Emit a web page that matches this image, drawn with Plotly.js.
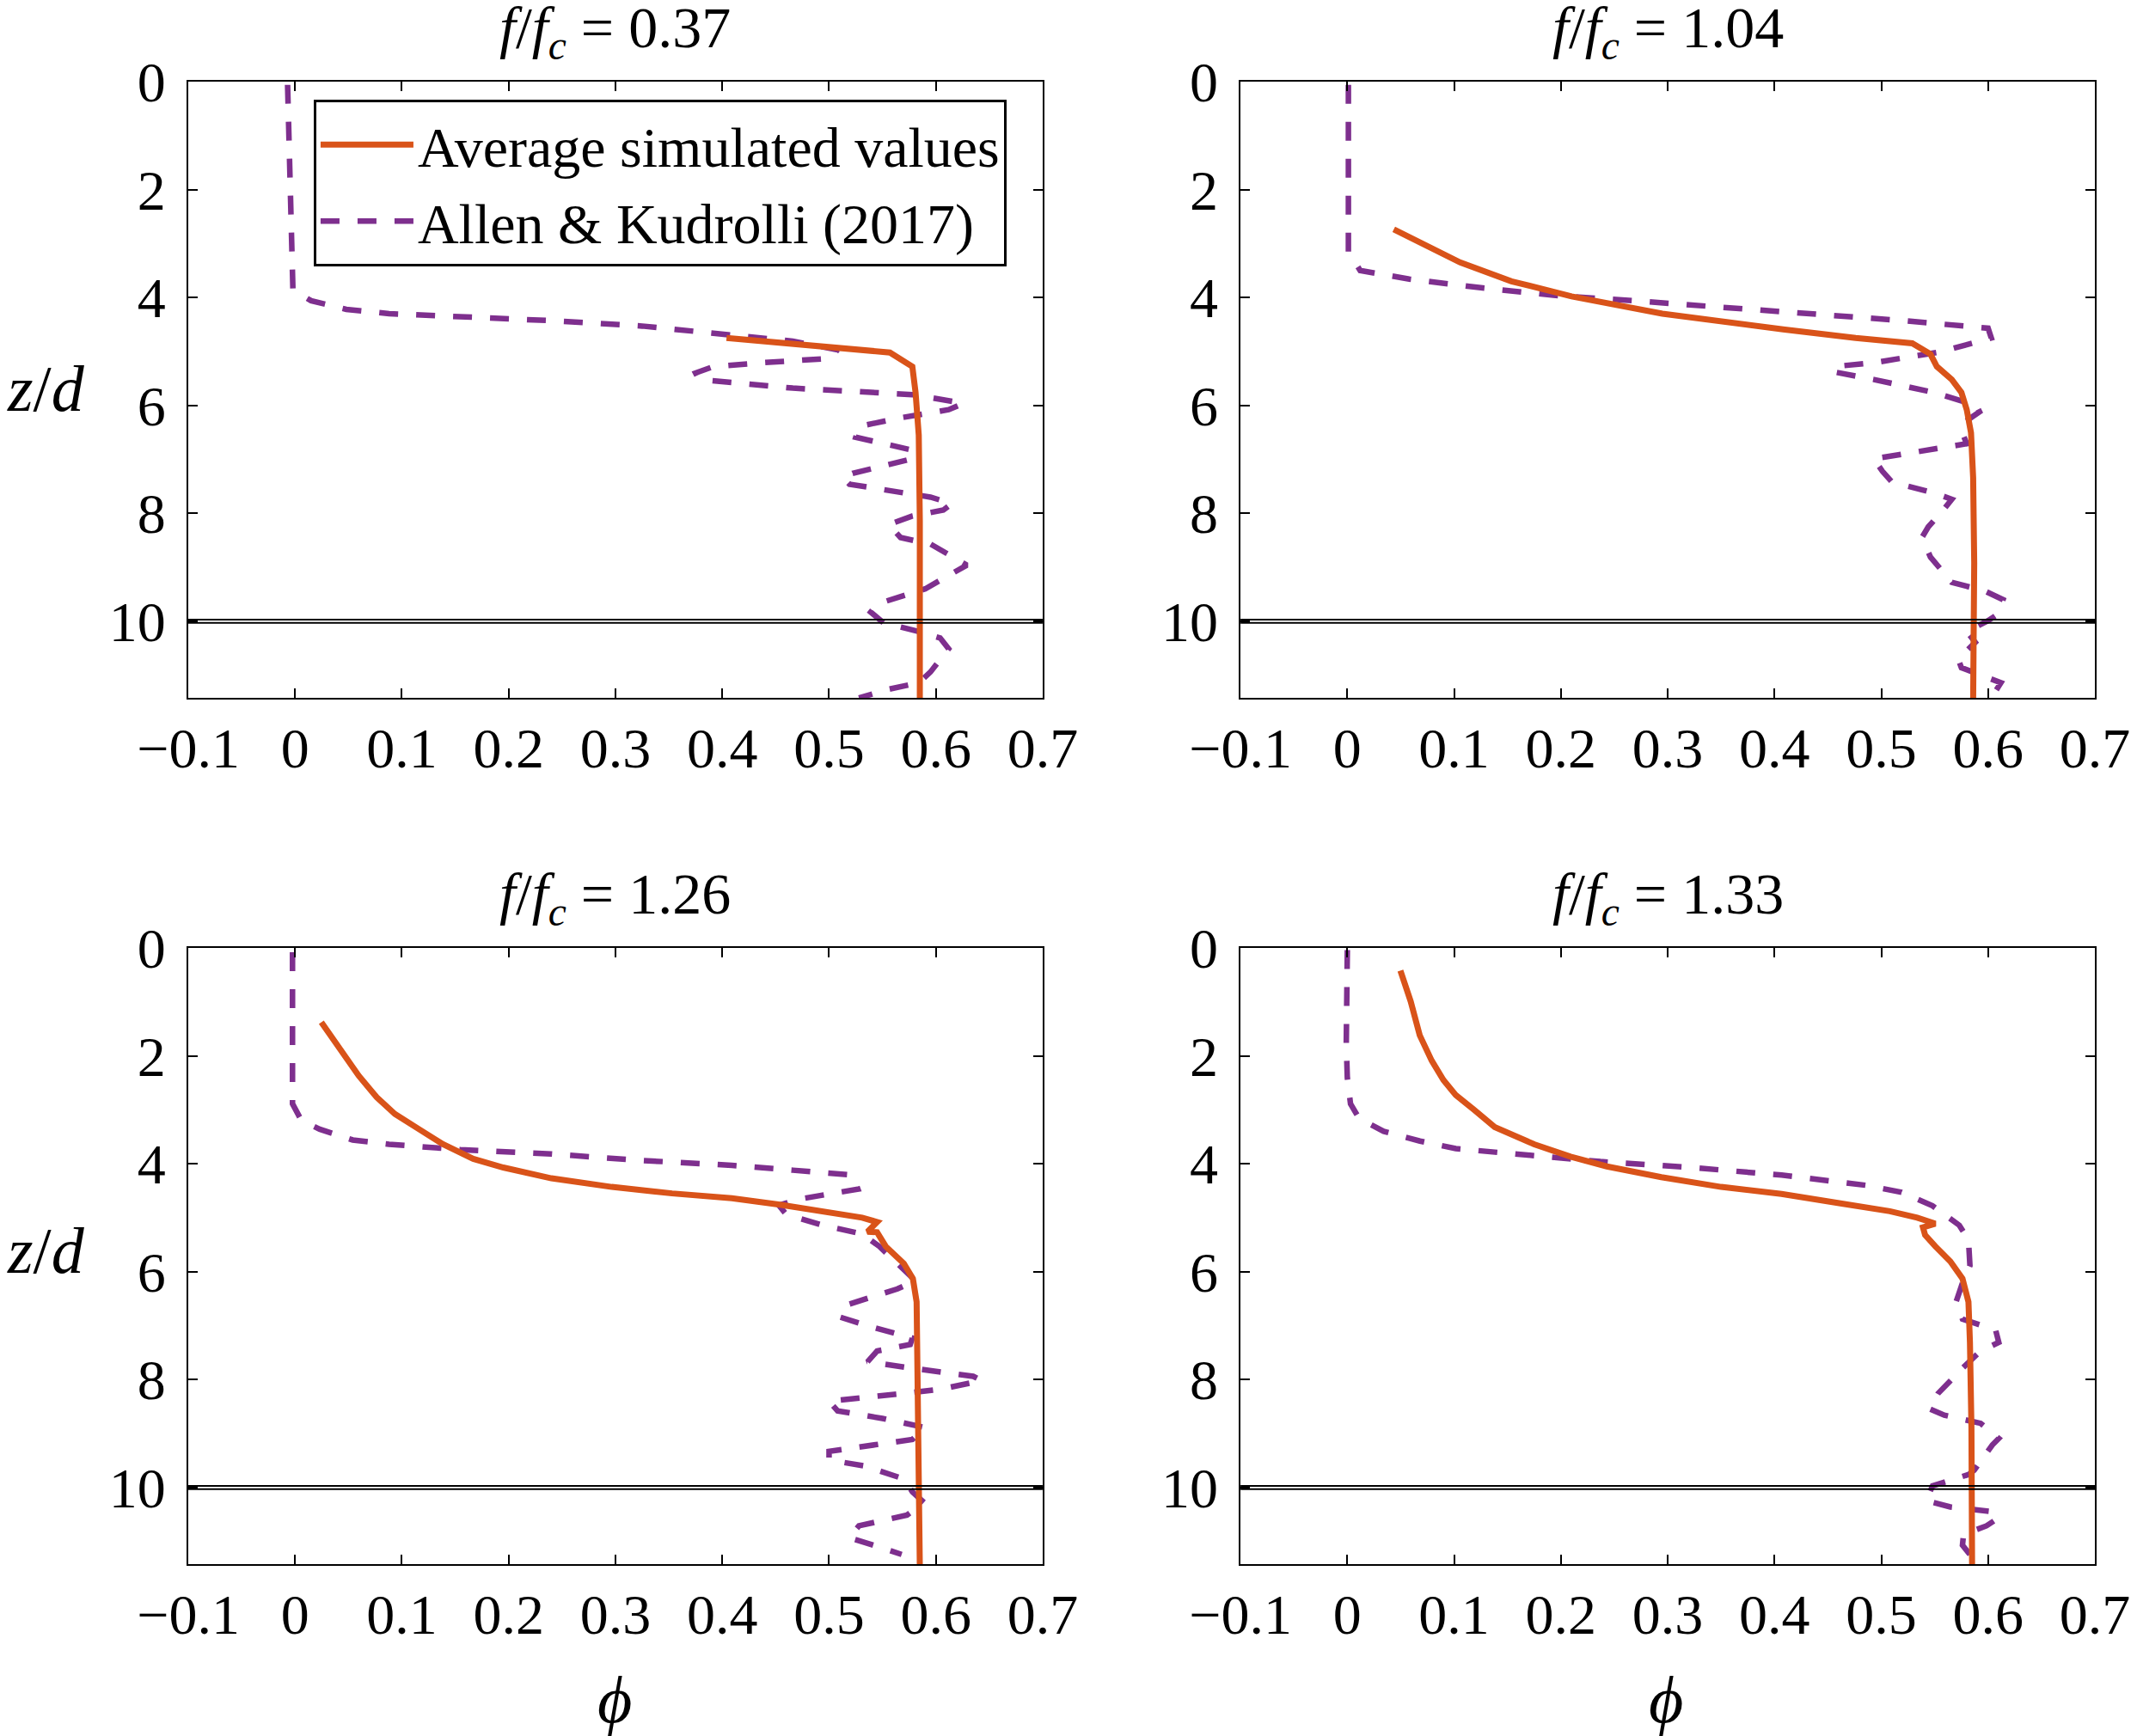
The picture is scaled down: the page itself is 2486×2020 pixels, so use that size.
<!DOCTYPE html>
<html>
<head>
<meta charset="utf-8">
<script src="https://cdn.plot.ly/plotly-3.0.1.min.js"></script>
<style>
  html, body { margin: 0; padding: 0; background: #ffffff; }
  #chart { width: 2486px; height: 2020px; }
</style>
</head>
<body>
<div id="chart"></div>
<script>
// f/fc for each panel (top-left, top-right, bottom-left, bottom-right)
const freqRatios = ['0.37', '1.04', '1.26', '1.33'];
const seriesNames = ['Average simulated values', 'Allen &amp; Kudrolli (2017)'];

const phiTicks = [-0.1, 0, 0.1, 0.2, 0.3, 0.4, 0.5, 0.6, 0.7];
const phiTickText = ['\u22120.1', '0', '0.1', '0.2', '0.3', '0.4', '0.5', '0.6', '0.7'];
const zTicks = [0, 2, 4, 6, 8, 10];
const zTickText = ['0', '2', '4', '6', '8', '10'];

// panel 1: f/fc = 0.37
const zSim1 = [4.75, 5.02, 5.28, 5.76, 6.55, 8.13, 11.45];
const phiSim1 = [0.404, 0.557, 0.578, 0.581, 0.584, 0.585, 0.585];
const zExp1 = [0.06, 1.8, 3.0, 3.86, 4.06, 4.22, 4.30, 4.35, 4.43, 4.53, 4.69, 4.81, 4.97, 5.13, 5.21, 5.28, 5.40, 5.52,
  5.68, 5.80, 5.96, 6.08, 6.23, 6.39, 6.59, 6.83, 6.99, 7.26, 7.34, 7.46, 7.70, 7.82, 7.94, 8.05, 8.21, 8.45, 8.57,
  8.96, 9.40, 9.68, 9.83, 10.03, 10.19, 10.31, 10.51, 10.94, 11.14, 11.26, 11.42];
const phiExp1 = [-0.007, -0.005, -0.004, -0.002, 0.015, 0.048, 0.088, 0.155, 0.24, 0.325, 0.404, 0.466, 0.508, 0.5,
  0.437, 0.392, 0.375, 0.378, 0.466, 0.578, 0.626, 0.612, 0.567, 0.528, 0.525, 0.578, 0.578, 0.522, 0.513, 0.519,
  0.595, 0.615, 0.607, 0.578, 0.556, 0.567, 0.595, 0.629, 0.59, 0.545, 0.539, 0.551, 0.584, 0.604, 0.612, 0.595,
  0.584, 0.556, 0.528];

// panel 2: f/fc = 1.04
const zSim2 = [2.74, 3.35, 3.70, 3.98, 4.30, 4.45, 4.59, 4.75, 4.85, 5.05, 5.28, 5.52, 5.76, 6.08, 6.51, 7.34, 8.92, 11.46];
const phiSim2 = [0.0435, 0.1056, 0.1537, 0.21, 0.295, 0.351, 0.408, 0.476, 0.529, 0.546, 0.552, 0.566, 0.575, 0.58,
  0.584, 0.586, 0.587, 0.586];
const zExp2 = [0.06, 1.80, 3.15, 3.50, 3.66, 3.82, 3.96, 4.06, 4.18, 4.30, 4.43, 4.57, 4.75, 5.01, 5.21, 5.28, 5.38,
  5.52, 5.76, 6.00, 6.12, 6.31, 6.47, 6.71, 6.87, 6.99, 7.22, 7.42, 7.62, 7.74, 7.94, 8.25, 8.45, 8.81, 9.28, 9.44,
  9.60, 9.87, 9.99, 10.19, 10.39, 10.70, 10.86, 11.14, 11.42];
const phiExp2 = [0.001, 0.001, 0.001, 0.012, 0.058, 0.125, 0.193, 0.267, 0.351, 0.436, 0.521, 0.6, 0.603, 0.555,
  0.493, 0.456, 0.456, 0.493, 0.549, 0.589, 0.592, 0.578, 0.575, 0.58, 0.529, 0.493, 0.501, 0.510, 0.549, 0.566,
  0.558, 0.544, 0.538, 0.546, 0.566, 0.597, 0.614, 0.609, 0.6, 0.58, 0.588, 0.572, 0.575, 0.612, 0.603];

// panel 3: f/fc = 1.26
const zSim3 = [1.38, 1.90, 2.37, 2.77, 3.08, 3.36, 3.64, 3.91, 4.07, 4.27, 4.43, 4.55, 4.64, 4.76, 4.88, 5.00, 5.08,
  5.26, 5.27, 5.53, 5.85, 6.13, 6.56, 8.10, 10.0, 11.46];
const phiSim3 = [0.0246, 0.0426, 0.0596, 0.0765, 0.0935, 0.116, 0.1386, 0.1668, 0.195, 0.240, 0.2965, 0.353, 0.409,
  0.454, 0.494, 0.531, 0.545, 0.536, 0.545, 0.553, 0.570, 0.5785, 0.582, 0.583, 0.584, 0.585];
const zExp3 = [0.08, 1.78, 2.89, 3.20, 3.36, 3.56, 3.64, 3.74, 3.82, 3.94, 4.03, 4.12, 4.21, 4.47, 4.66, 4.77, 4.94,
  5.14, 5.30, 5.53, 5.81, 6.17, 6.32, 6.62, 6.84, 7.02, 7.23, 7.35, 7.47, 7.67, 7.79, 7.94, 8.02, 8.18, 8.25, 8.40,
  8.58, 8.72, 8.89, 9.11, 9.25, 9.33, 9.49, 9.60, 9.84, 10.08, 10.28, 10.51, 10.71, 10.93, 11.09, 11.24];
const phiExp3 = [-0.0024, -0.0024, -0.0024, 0.006, 0.023, 0.054, 0.088, 0.155, 0.24, 0.325, 0.409, 0.466, 0.522,
  0.527, 0.471, 0.453, 0.46, 0.494, 0.531, 0.547, 0.562, 0.581, 0.564, 0.516, 0.51, 0.539, 0.578, 0.576, 0.545,
  0.536, 0.578, 0.635, 0.643, 0.604, 0.573, 0.5, 0.508, 0.55, 0.59, 0.578, 0.528, 0.5, 0.5, 0.533, 0.57, 0.578,
  0.589, 0.573, 0.528, 0.519, 0.545, 0.568];

// panel 4: f/fc = 1.33
const zSim4 = [0.42, 0.99, 1.62, 2.09, 2.45, 2.73, 3.00, 3.32, 3.64, 3.87, 4.05, 4.25, 4.43, 4.56, 4.74, 4.88, 5.00,
  5.11, 5.18, 5.32, 5.53, 5.81, 6.13, 6.56, 7.31, 8.89, 11.46];
const phiSim4 = [0.0497, 0.0593, 0.0678, 0.079, 0.090, 0.1016, 0.1186, 0.138, 0.175, 0.209, 0.243, 0.294, 0.350,
  0.4066, 0.463, 0.508, 0.5336, 0.5505, 0.539, 0.541, 0.5505, 0.5646, 0.576, 0.5816, 0.583, 0.5844, 0.585];
const zExp4 = [0.04, 1.78, 2.41, 2.89, 3.16, 3.40, 3.58, 3.72, 3.81, 3.96, 4.07, 4.21, 4.40, 4.53, 4.78, 5.14, 5.41,
  5.89, 6.21, 6.56, 6.88, 7.08, 7.31, 7.47, 7.79, 8.26, 8.54, 8.66, 8.81, 9.09, 9.21, 9.68, 9.76, 9.97, 10.24, 10.36,
  10.44, 10.56, 10.71, 10.87, 11.07, 11.34];
const phiExp4 = [0, -0.001, 0, 0.003, 0.011, 0.034, 0.068, 0.1016, 0.152, 0.237, 0.322, 0.4066, 0.4856, 0.519, 0.548,
  0.573, 0.5816, 0.583, 0.576, 0.570, 0.576, 0.607, 0.610, 0.593, 0.576, 0.553, 0.545, 0.559, 0.593, 0.610, 0.604,
  0.587, 0.5816, 0.548, 0.542, 0.5646, 0.601, 0.610, 0.5985, 0.577, 0.576, 0.587];

// bed surface marker
const zBed = 10;

const simColor = '#D95319';
const expColor = '#7E2F8E';
const fontFamily = '"Liberation Serif", "DejaVu Serif", serif';

const panels = [
  { zSim: zSim1, phiSim: phiSim1, zExp: zExp1, phiExp: phiExp1 },
  { zSim: zSim2, phiSim: phiSim2, zExp: zExp2, phiExp: phiExp2 },
  { zSim: zSim3, phiSim: phiSim3, zExp: zExp3, phiExp: phiExp3 },
  { zSim: zSim4, phiSim: phiSim4, zExp: zExp4, phiExp: phiExp4 },
];

// panel frames in paper coordinates
const xDomains = [[0.0881, 0.4879], [0.5805, 0.9803]];
const yDomains = [[0.598, 0.953], [0.099, 0.454]];

const traces = [];
const shapes = [];
const annotations = [];
const layout = {
  width: 2486,
  height: 2020,
  margin: { l: 0, r: 0, t: 0, b: 0, pad: 0 },
  paper_bgcolor: '#ffffff',
  plot_bgcolor: '#ffffff',
  font: { family: fontFamily, size: 66, color: '#000000' },
  showlegend: true,
  legend: {
    x: 0.1468,
    y: 0.9426,
    xanchor: 'left',
    yanchor: 'top',
    bgcolor: '#ffffff',
    bordercolor: '#000000',
    borderwidth: 3,
    font: { family: fontFamily, size: 66, color: '#000000' },
    itemwidth: 108,
    tracegroupgap: 0,
  },
};

panels.forEach((p, i) => {
  const n = i + 1;
  const suffix = n === 1 ? '' : String(n);
  const col = i % 2;
  const row = Math.floor(i / 2);

  traces.push({
    x: p.phiExp,
    y: p.zExp,
    xaxis: 'x' + suffix,
    yaxis: 'y' + suffix,
    mode: 'lines',
    name: seriesNames[1],
    showlegend: i === 0,
    legendrank: 2,
    line: { color: expColor, width: 6.5, dash: '22px,21px' },
    hoverinfo: 'skip',
  });
  traces.push({
    x: p.phiSim,
    y: p.zSim,
    xaxis: 'x' + suffix,
    yaxis: 'y' + suffix,
    mode: 'lines',
    name: seriesNames[0],
    showlegend: i === 0,
    legendrank: 1,
    line: { color: simColor, width: 7 },
    hoverinfo: 'skip',
  });

  layout['xaxis' + suffix] = {
    domain: xDomains[col],
    anchor: 'y' + suffix,
    range: [-0.1, 0.7],
    tickvals: phiTicks,
    ticktext: phiTickText,
    ticks: 'inside',
    ticklen: 11,
    tickwidth: 2,
    tickcolor: '#000000',
    ticklabelstandoff: 0,
    showline: true,
    linecolor: '#000000',
    linewidth: 2,
    mirror: 'ticks',
    showgrid: false,
    zeroline: false,
    tickfont: { family: fontFamily, size: 66, color: '#000000' },
  };
  layout['yaxis' + suffix] = {
    domain: yDomains[row],
    anchor: 'x' + suffix,
    range: [11.42, 0],
    tickvals: zTicks,
    ticktext: zTickText,
    ticks: 'inside',
    ticklen: 11,
    tickwidth: 2,
    tickcolor: '#000000',
    ticklabelstandoff: 11,
    showline: true,
    linecolor: '#000000',
    linewidth: 2,
    mirror: 'ticks',
    showgrid: false,
    zeroline: false,
    tickfont: { family: fontFamily, size: 66, color: '#000000' },
  };

  // double line marking the bed at z/d = 10
  [-0.03, 0.03].forEach(offset => {
    shapes.push({
      type: 'line',
      xref: 'x' + suffix + ' domain',
      yref: 'y' + suffix,
      x0: 0,
      x1: 1,
      y0: zBed + offset,
      y1: zBed + offset,
      line: { color: '#000000', width: 2 },
    });
  });

  // panel title
  annotations.push({
    xref: 'paper',
    yref: 'paper',
    x: (xDomains[col][0] + xDomains[col][1]) / 2,
    y: yDomains[row][1] + 0.029,
    xanchor: 'center',
    yanchor: 'middle',
    showarrow: false,
    text: '<i>f</i>/<i>f</i><sub><i>c</i></sub> = ' + freqRatios[i],
    font: { family: fontFamily, size: 68, color: '#000000' },
  });
});

// axis titles
annotations.push(
  {
    xref: 'paper', yref: 'paper', x: 0.0217, y: 0.7762, xanchor: 'center', yanchor: 'middle',
    showarrow: false, text: '<i>z</i>/<i>d</i>', font: { family: fontFamily, size: 76, color: '#000000' },
  },
  {
    xref: 'paper', yref: 'paper', x: 0.0217, y: 0.2797, xanchor: 'center', yanchor: 'middle',
    showarrow: false, text: '<i>z</i>/<i>d</i>', font: { family: fontFamily, size: 76, color: '#000000' },
  },
  {
    xref: 'paper', yref: 'paper', x: 0.2876, y: 0.0208, xanchor: 'center', yanchor: 'middle',
    showarrow: false, text: '<i>\u03D5</i>', font: { family: fontFamily, size: 78, color: '#000000' },
  },
  {
    xref: 'paper', yref: 'paper', x: 0.7796, y: 0.0208, xanchor: 'center', yanchor: 'middle',
    showarrow: false, text: '<i>\u03D5</i>', font: { family: fontFamily, size: 78, color: '#000000' },
  }
);

layout.shapes = shapes;
layout.annotations = annotations;

Plotly.newPlot('chart', traces, layout, { staticPlot: true, displayModeBar: false });
</script>
</body>
</html>
